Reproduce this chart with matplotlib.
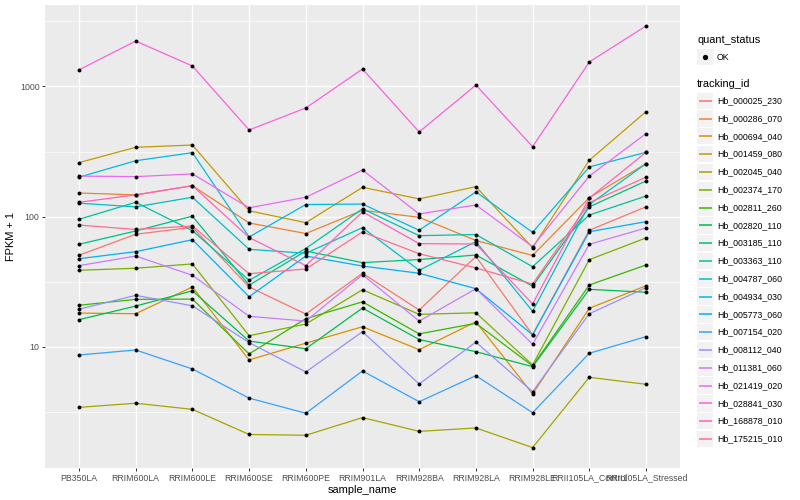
import matplotlib
matplotlib.use('Agg')
import matplotlib.pyplot as plt
from matplotlib.lines import Line2D
from matplotlib.patches import Rectangle
from matplotlib.ticker import FixedLocator, NullFormatter
import numpy as np

plt.rcParams['font.family'] = ['Liberation Sans', 'DejaVu Sans']

samples = ['PB350LA', 'RRIM600LA', 'RRIM600LE', 'RRIM600SE', 'RRIM600PE', 'RRIM901LA',
           'RRIM928BA', 'RRIM928LA', 'RRIM928LE', 'RRII105LA_Control', 'RRII105LA_Stressed']

tracking_ids = ['Hb_000025_230', 'Hb_000286_070', 'Hb_000694_040', 'Hb_001459_080',
                'Hb_002045_040', 'Hb_002374_170', 'Hb_002811_260', 'Hb_002820_110',
                'Hb_003185_110', 'Hb_003363_110', 'Hb_004787_060', 'Hb_004934_030',
                'Hb_005773_060', 'Hb_007154_020', 'Hb_008112_040', 'Hb_011381_060',
                'Hb_021419_020', 'Hb_028841_030', 'Hb_168878_010', 'Hb_175215_010']

# ggplot hue palette, 20 levels
colors = ['#F8766D', '#EA8331', '#D89000', '#C09B00', '#A3A500', '#7CAE00', '#39B600',
          '#00BB4E', '#00BF7D', '#00C1A3', '#00BFC4', '#00BAE0', '#00B0F6', '#35A2FF',
          '#9590FF', '#C77CFF', '#E76BF3', '#FA62DB', '#FF62BC', '#FF6C91']

# FPKM + 1 per sample
hb_000025_230 = [50.6, 73.3, 82.9, 28.9, 17.9, 36.8, 19.2, 49.5, 12.4, 78.7, 119]
hb_000286_070 = [152, 147, 173, 89.5, 74.3, 112, 98.9, 65.7, 50.4, 140, 255]
hb_000694_040 = [18.2, 18.0, 28.9, 7.95, 10.7, 14.3, 9.53, 15.6, 4.36, 19.8, 29.5]
hb_001459_080 = [260, 341, 355, 111, 90, 168, 137, 170, 57.8, 271, 640]
hb_002045_040 = [3.44, 3.70, 3.32, 2.13, 2.10, 2.87, 2.25, 2.39, 1.69, 5.85, 5.17]
hb_002374_170 = [38.8, 40.2, 43.4, 12.2, 15.0, 27.5, 17.8, 18.3, 7.28, 46.8, 68.7]
hb_002811_260 = [20.9, 23.2, 23.3, 8.84, 16.5, 22.2, 12.6, 15.2, 7.15, 29.9, 42.6]
hb_002820_110 = [16.2, 20.6, 27.0, 11.1, 9.70, 19.9, 11.4, 9.20, 7.06, 27.7, 26.3]
hb_003185_110 = [61.4, 77.7, 101, 29.8, 54.5, 44.4, 46.9, 50.8, 29.3, 119, 188]
hb_003363_110 = [95.5, 129, 78.1, 32.5, 57.0, 115, 71.5, 73.0, 41.3, 103, 144]
hb_004787_060 = [127, 119, 141, 56.2, 52.4, 82.4, 38.8, 64.3, 18.8, 124, 255]
hb_004934_030 = [201, 269, 310, 69.8, 124, 125, 78.7, 155, 75.9, 241, 312]
hb_005773_060 = [47.6, 53.9, 66.6, 24.3, 49.9, 41.8, 36.8, 28.0, 12.4, 76.7, 91.6]
hb_007154_020 = [8.68, 9.48, 6.78, 4.05, 3.10, 6.54, 3.80, 6.02, 3.13, 8.95, 12.0]
hb_008112_040 = [19.5, 24.9, 20.7, 10.8, 6.43, 13.1, 5.20, 10.9, 4.54, 18.0, 28.5]
hb_011381_060 = [42.1, 49.9, 35.5, 17.2, 15.8, 35.9, 15.8, 28.0, 10.5, 61.4, 81.9]
hb_021419_020 = [205, 203, 213, 117, 141, 228, 105, 123, 58.9, 205, 434]
hb_028841_030 = [1340, 2230, 1435, 463, 683, 1360, 447, 1025, 345, 1540, 2910]
hb_168878_010 = [129, 147, 173, 69.2, 42.1, 109, 62.1, 61.7, 21.4, 139, 312]
hb_175215_010 = [86.3, 79.8, 84.9, 36.5, 39.7, 76.3, 52.0, 40.4, 30.4, 128, 201]

series = [hb_000025_230, hb_000286_070, hb_000694_040, hb_001459_080, hb_002045_040,
          hb_002374_170, hb_002811_260, hb_002820_110, hb_003185_110, hb_003363_110,
          hb_004787_060, hb_004934_030, hb_005773_060, hb_007154_020, hb_008112_040,
          hb_011381_060, hb_021419_020, hb_028841_030, hb_168878_010, hb_175215_010]

W, H = 800, 500
fig = plt.figure(figsize=(W / 100, H / 100), dpi=100)
ax = fig.add_axes([45 / W, 32 / H, 635 / W, 463 / H])
ax.set_facecolor('#EBEBEB')

x = np.arange(len(samples))
for vals, col in zip(series, colors):
    ax.plot(x, vals, color=col, lw=0.9, zorder=2)
for vals in series:
    ax.scatter(x, vals, s=8, color='black', linewidths=0, zorder=3)

ax.set_yscale('log')
ax.set_xlim(-0.6, len(samples) - 0.4)
ax.set_ylim(10 ** 0.071, 10 ** 3.625)
ax.yaxis.set_major_locator(FixedLocator([10, 100, 1000]))
ax.set_yticklabels(['10', '100', '1000'])
ax.yaxis.set_minor_locator(FixedLocator([10 ** 0.5, 10 ** 1.5, 10 ** 2.5, 10 ** 3.5]))
ax.yaxis.set_minor_formatter(NullFormatter())
ax.set_xticks(x)
ax.set_xticklabels(samples)

ax.grid(which='major', color='white', lw=1.0)
ax.grid(which='minor', axis='y', color='white', lw=0.5)
ax.set_axisbelow(True)
for s in ax.spines.values():
    s.set_visible(False)
ax.tick_params(which='major', length=2.5, width=0.7, color='#333333',
               labelsize=6.3, labelcolor='#4D4D4D', pad=1.5)
ax.tick_params(which='minor', length=0)
ax.set_xlabel('sample_name', fontsize=7.9, labelpad=2)
ax.set_ylabel('FPKM + 1', fontsize=7.9, labelpad=3)


# legends drawn by hand, in pixel units from the top left
def fxy(px, py):
    return px / W, 1 - py / H


fig.text(*fxy(697, 40), 'quant_status', fontsize=7.9, va='center', ha='left')
fig.add_artist(Rectangle(fxy(697, 65), 16 / W, 16 / H, transform=fig.transFigure,
                         facecolor='#F2F2F2', edgecolor='none'))
fig.add_artist(Line2D([705 / W], [1 - 57 / H], transform=fig.transFigure, marker='o',
                      markersize=2.8, color='black', linestyle='none'))
fig.text(*fxy(717, 57), 'OK', fontsize=6.3, va='center', ha='left')

fig.text(*fxy(697, 84), 'tracking_id', fontsize=7.9, va='center', ha='left')
for i, (tid, col) in enumerate(zip(tracking_ids, colors)):
    yc = 100.7 + i * 17.8
    fig.add_artist(Rectangle(fxy(697, yc + 8.2), 16 / W, 16.4 / H, transform=fig.transFigure,
                             facecolor='#F2F2F2', edgecolor='none'))
    fig.add_artist(Line2D([698.5 / W, 711.5 / W], [1 - yc / H] * 2, transform=fig.transFigure,
                          color=col, lw=1.1, solid_capstyle='butt'))
    fig.text(*fxy(717, yc), tid, fontsize=6.3, va='center', ha='left')

fig.savefig('out.png', dpi=100)
